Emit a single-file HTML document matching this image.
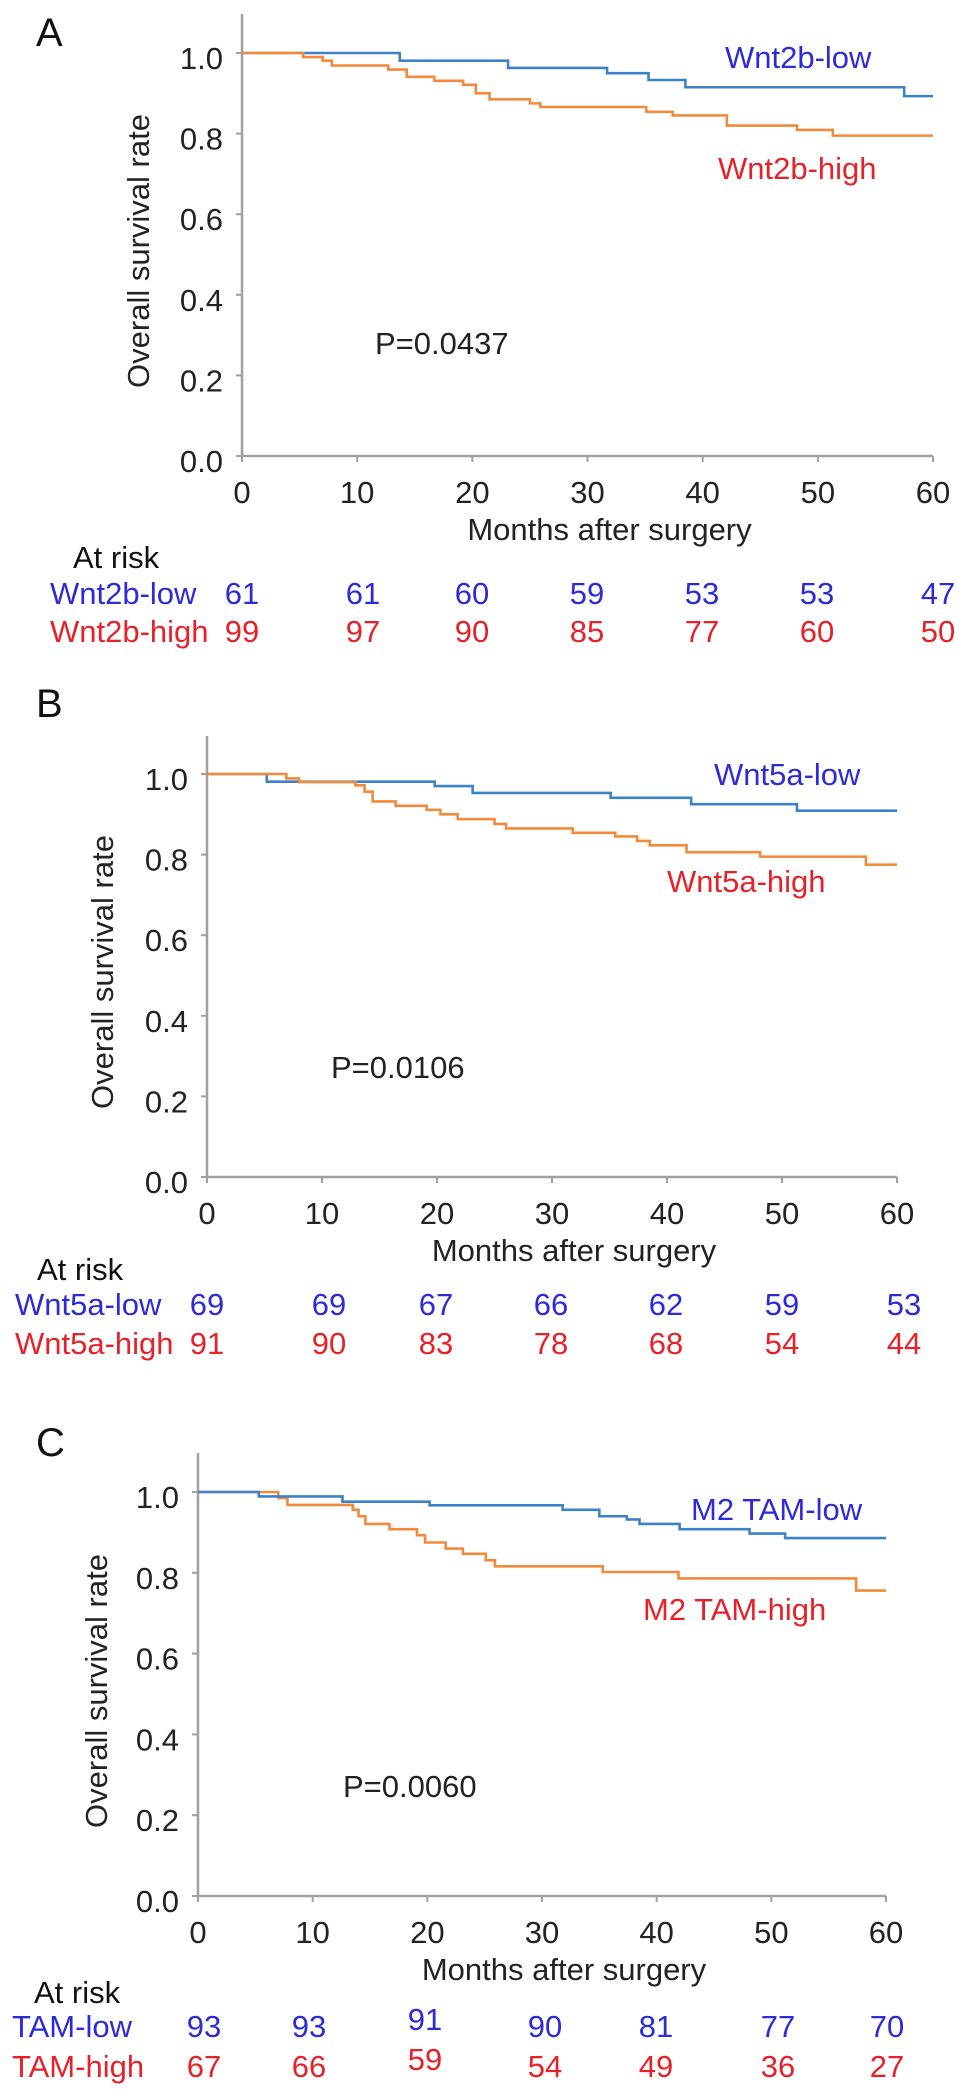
<!DOCTYPE html>
<html><head><meta charset="utf-8"><style>
html,body{margin:0;padding:0;background:#fff;}
svg{display:block;font-family:"Liberation Sans",Arial,sans-serif;}
</style></head><body>
<svg id="fig" width="969" height="2096" viewBox="0 0 969 2096"></svg>
<script>
// ---- data ----
const xTicks = [0,10,20,30,40,50,60];
const yTicks = [0,0.2,0.4,0.6,0.8,1.0];
const yTickLabels = ["0.0","0.2","0.4","0.6","0.8","1.0"];

const aLowTimes = [0,13.7,23.1,31.7,35.3,38.5,57.5];
const aLowSurv  = [1,0.981,0.963,0.950,0.933,0.915,0.893];
const aHighTimes = [0,5.3,7.0,7.8,12.7,14.3,16.7,19.2,20.3,21.5,25.0,25.9,35.1,37.4,42.1,48.2,51.3];
const aHighSurv  = [1,0.99,0.981,0.969,0.959,0.941,0.931,0.921,0.9,0.885,0.875,0.866,0.854,0.845,0.82,0.809,0.795];

const bLowTimes = [0,5.2,19.8,23.1,35.1,42.1,51.3];
const bLowSurv  = [1,0.981,0.97,0.953,0.941,0.925,0.909];
const bHighTimes = [0,6.9,8.0,12.9,13.7,14.4,16.4,19.1,20.3,21.8,25.0,26.0,31.8,35.5,37.4,38.5,41.7,48.1,57.3];
const bHighSurv  = [1,0.989,0.98,0.972,0.956,0.932,0.921,0.911,0.9,0.888,0.876,0.865,0.854,0.845,0.834,0.823,0.806,0.795,0.775];

const cLowTimes = [0,5.3,12.6,20.2,31.8,35.0,37.4,38.5,42.0,48.1,51.2];
const cLowSurv  = [1,0.989,0.976,0.967,0.956,0.94,0.932,0.921,0.908,0.897,0.886];
const cHighTimes = [0,7.0,7.8,13.5,14.0,14.6,16.7,19.1,19.8,21.6,23.1,25.1,25.9,35.3,41.9,57.4];
const cHighSurv  = [1,0.985,0.968,0.956,0.94,0.921,0.908,0.893,0.875,0.86,0.847,0.831,0.816,0.802,0.786,0.756];

const aRiskLow = ["61","61","60","59","53","53","47"];
const aRiskHigh = ["99","97","90","85","77","60","50"];
const bRiskLow = ["69","69","67","66","62","59","53"];
const bRiskHigh = ["91","90","83","78","68","54","44"];
const cRiskLow = ["93","93","91","90","81","77","70"];
const cRiskHigh = ["67","66","59","54","49","36","27"];

// ---- layout ----
const panels = [
 {id:'a', letter:'A', lx:36, ly:32, x0:242, x60:933, y0:456, y1:53, top:14,
  low:[aLowTimes,aLowSurv], high:[aHighTimes,aHighSurv], highOnTop:true,
  lowLabel:'Wnt2b-low', lowPos:[725,57], highLabel:'Wnt2b-high', highPos:[718,168],
  p:'P=0.0437', pPos:[375,343], titleX:138,
  riskTitle:[73,557], rowY:[593,631], rowLabelX:50, rowNames:['Wnt2b-low','Wnt2b-high'],
  cols:[242,363,472,587,702,817,938], riskLow:aRiskLow, riskHigh:aRiskHigh, raise:-1},
 {id:'b', letter:'B', lx:36, ly:703, x0:207, x60:897, y0:1177, y1:774, top:736,
  low:[bLowTimes,bLowSurv], high:[bHighTimes,bHighSurv], highOnTop:true,
  lowLabel:'Wnt5a-low', lowPos:[714,774], highLabel:'Wnt5a-high', highPos:[667,881],
  p:'P=0.0106', pPos:[331,1067], titleX:102,
  riskTitle:[37,1269], rowY:[1304,1343], rowLabelX:15, rowNames:['Wnt5a-low','Wnt5a-high'],
  cols:[207,329,436,551,666,782,904], riskLow:bRiskLow, riskHigh:bRiskHigh, raise:-1},
 {id:'c', letter:'C', lx:36, ly:1442, x0:198, x60:886, y0:1896, y1:1492, top:1453,
  low:[cLowTimes,cLowSurv], high:[cHighTimes,cHighSurv], highOnTop:false,
  lowLabel:'M2 TAM-low', lowPos:[691,1509], highLabel:'M2 TAM-high', highPos:[643,1609],
  p:'P=0.0060', pPos:[343,1786], titleX:96,
  riskTitle:[34,1992], rowY:[2026,2066], rowLabelX:12, rowNames:['TAM-low','TAM-high'],
  cols:[204,309,425,545,656,778,887], riskLow:cRiskLow, riskHigh:cRiskHigh, raise:2}
];

const NS='http://www.w3.org/2000/svg';
const svg=document.getElementById('fig');
const FS=31, OFF=11;
function mk(tag, attrs, parent){
  const e=document.createElementNS(NS,tag);
  for(const k in attrs) e.setAttribute(k,attrs[k]);
  (parent||svg).appendChild(e); return e;
}
function txt(s, x, y, anchor, color, size, parent){
  const t=mk('text',{x:x,y:y+(size||FS)*0.355,'text-anchor':anchor,fill:color,'font-size':size||FS},parent);
  t.textContent=s; return t;
}
const BLUE_T='#2b2bd8', RED_T='#e62228', BLUE_L='#3d82c9', ORANGE_L='#f28a3c', AX='#a0a0a0';

panels.forEach(P=>{
  const g=mk('g',{});
  
  
  const xs=m=>P.x0+(P.x60-P.x0)*m/60;
  const ys=v=>P.y0-(P.y0-P.y1)*v;

  const L=txt(P.letter,P.lx,P.ly,'start','#111',40,g);
  
  

  // axes
  const ax=mk('path',{d:`M${P.x0},${P.top} V${P.y0} H${P.x60}`,stroke:AX,'stroke-width':2.5,fill:'none'},g);
  
  
  yTicks.forEach((v,i)=>{
    const tk=mk('line',{x1:P.x0-6,x2:P.x0,y1:ys(v),y2:ys(v),stroke:AX,'stroke-width':2},g);
    
    
    const tl=txt(yTickLabels[i],P.x0-19,ys(v)+5,'end','#222',FS,g);
    
    
  });
  xTicks.forEach(m=>{
    const tk=mk('line',{x1:xs(m),x2:xs(m),y1:P.y0,y2:P.y0+6,stroke:AX,'stroke-width':2},g);
    
    
    const tl=txt(String(m),xs(m),P.y0+36,'middle','#222',FS,g);
    
    
  });
  const xt=txt('Months after surgery',(P.x0+P.x60)/2+22,P.y0+73,'middle','#222',FS,g);
  
  
  const yc=P.y0-205;
  const yt=mk('text',{x:0,y:0,'text-anchor':'middle',fill:'#222','font-size':FS,transform:`translate(${P.titleX+11},${yc}) rotate(-90)`},g);
  yt.textContent='Overall survival rate';
  
  

  function step(series,color,name){
    const t=series[0], s=series[1];
    let d=`M${xs(t[0])},${ys(s[0])}`;
    for(let i=1;i<t.length;i++){ d+=` H${xs(t[i])} V${ys(s[i])}`; }
    d+=` H${xs(60)}`;
    const p=mk('path',{d:d,stroke:color,'stroke-width':2.6,fill:'none'},g);
    
    
  }
  if(P.highOnTop){ step(P.low,BLUE_L,'low-curve-'+P.id); step(P.high,ORANGE_L,'high-curve-'+P.id); }
  else { step(P.high,ORANGE_L,'high-curve-'+P.id); step(P.low,BLUE_L,'low-curve-'+P.id); }

  const l1=txt(P.lowLabel,P.lowPos[0],P.lowPos[1],'start',BLUE_T,FS,g);
  
  
  const l2=txt(P.highLabel,P.highPos[0],P.highPos[1],'start',RED_T,FS,g);
  
  
  const pv=txt(P.p,P.pPos[0],P.pPos[1],'start','#222',FS,g);
  
  

  const rt=txt('At risk',P.riskTitle[0],P.riskTitle[1],'start','#111',FS,g);
  
  
  [[P.rowNames[0],P.riskLow,BLUE_T,P.rowY[0]],[P.rowNames[1],P.riskHigh,RED_T,P.rowY[1]]].forEach(r=>{
    const rl=txt(r[0],P.rowLabelX,r[3],'start',r[2],FS,g);
    
    
    r[1].forEach((n,i)=>{
      const dy=(i===P.raise)?-7:0;
      const nt=txt(n,P.cols[i],r[3]+dy,'middle',r[2],FS,g);
      
      
    });
  });
});
</script>
</body></html>
